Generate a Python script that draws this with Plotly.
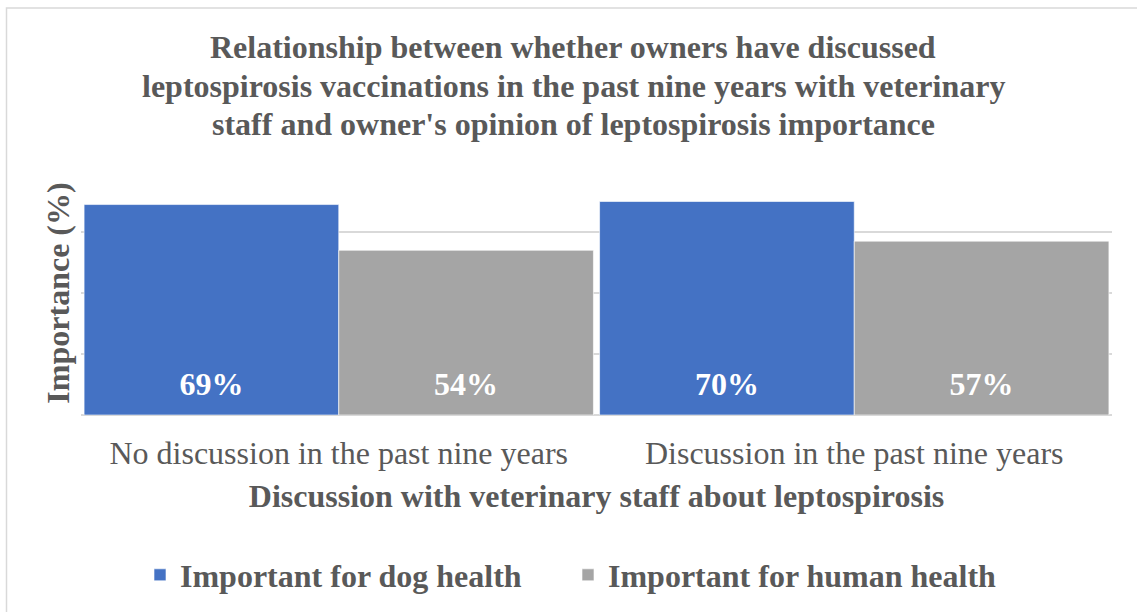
import plotly.graph_objects as go

categories = ["No discussion in the past nine years", "Discussion in the past nine years"]
dog_health = [69, 70]
human_health = [54, 57]
series_names = ["Important for dog health", "Important for human health"]
title_lines = [
    "Relationship between whether owners have discussed",
    "leptospirosis vaccinations in the past nine years with veterinary",
    "staff and owner's opinion of leptospirosis importance",
]
x_title = "Discussion with veterinary staff about leptospirosis"
y_title = "Importance (%)"

FONT = "Liberation Serif"
TXT = "#595959"
GRID = "#d9d9d9"
COLORS = ["#4472C4", "#A5A5A5"]
LABEL_Y = 9.2  # vertical placement of the value labels inside the bars (axis units)
GAP = 0.012

W, H = 1137, 612
L, R, T, B = 81, 25, 171, 197
pw, ph = W - L - R, H - T - B

def px_x(px):
    return (px - L) / pw

def px_y(py):
    return (H - B - py) / ph

fig = go.Figure()
for i, (name, vals) in enumerate([(series_names[0], dog_health),
                                  (series_names[1], human_health)]):
    fig.add_trace(go.Bar(
        x=categories, y=vals, name=f"<b>{name}</b>",
        offsetgroup=str(i), alignmentgroup="a",
        marker=dict(color=COLORS[i], line=dict(color="rgba(255,255,255,0.6)", width=1)),
    ))
for i, vals in enumerate([dog_health, human_health]):
    fig.add_trace(go.Scatter(
        x=categories, y=[LABEL_Y] * len(vals), mode="text",
        offsetgroup=str(i), alignmentgroup="a",
        text=[f"<b>{v}%</b>" for v in vals], textposition="middle center",
        textfont=dict(family=FONT, size=32, color="white"),
        showlegend=False, hoverinfo="skip",
    ))

annotations = []
for line, py in zip(title_lines, [47, 86, 124]):
    annotations.append(dict(
        text=f"<b>{line}</b>", xref="paper", yref="paper",
        x=px_x(573), y=px_y(py), xanchor="center", yanchor="middle",
        showarrow=False, font=dict(family=FONT, size=32, color=TXT)))

fig.update_layout(
    width=W, height=H,
    margin=dict(l=L, r=R, t=T, b=B, autoexpand=False),
    paper_bgcolor="white", plot_bgcolor="white",
    barmode="group", bargap=GAP, bargroupgap=0,
    scattermode="group", scattergap=GAP,
    font=dict(family=FONT, color=TXT),
    annotations=annotations,
    showlegend=True,
    legend=dict(orientation="h", x=px_x(568), xanchor="center",
                y=px_y(575), yanchor="middle",
                font=dict(family=FONT, size=32, color=TXT),
                entrywidth=383, entrywidthmode="pixels",
                traceorder="normal"),
    shapes=[
        dict(type="rect", xref="paper", yref="paper",
             x0=px_x(6.5), x1=px_x(1150), y0=px_y(625), y1=px_y(8),
             line=dict(color=GRID, width=1.5), fillcolor="rgba(0,0,0,0)",
             layer="below"),
    ],
)
fig.update_xaxes(
    showgrid=False, showline=False, ticks="", automargin=False,
    tickfont=dict(family=FONT, size=32, color=TXT),
    ticklabelstandoff=16,
    title=dict(text=f"<b>{x_title}</b>", font=dict(family=FONT, size=32, color=TXT),
               standoff=14),
)
fig.update_yaxes(
    range=[0, 80], dtick=20, showticklabels=False, ticks="", automargin=False,
    showgrid=True, gridcolor=GRID, gridwidth=1.5,
    zeroline=True, zerolinecolor=GRID, zerolinewidth=1.5,
    title=dict(text=f"<b>{y_title}</b>", font=dict(family=FONT, size=32, color=TXT),
               standoff=0),
)

fig.write_html("out.html")
